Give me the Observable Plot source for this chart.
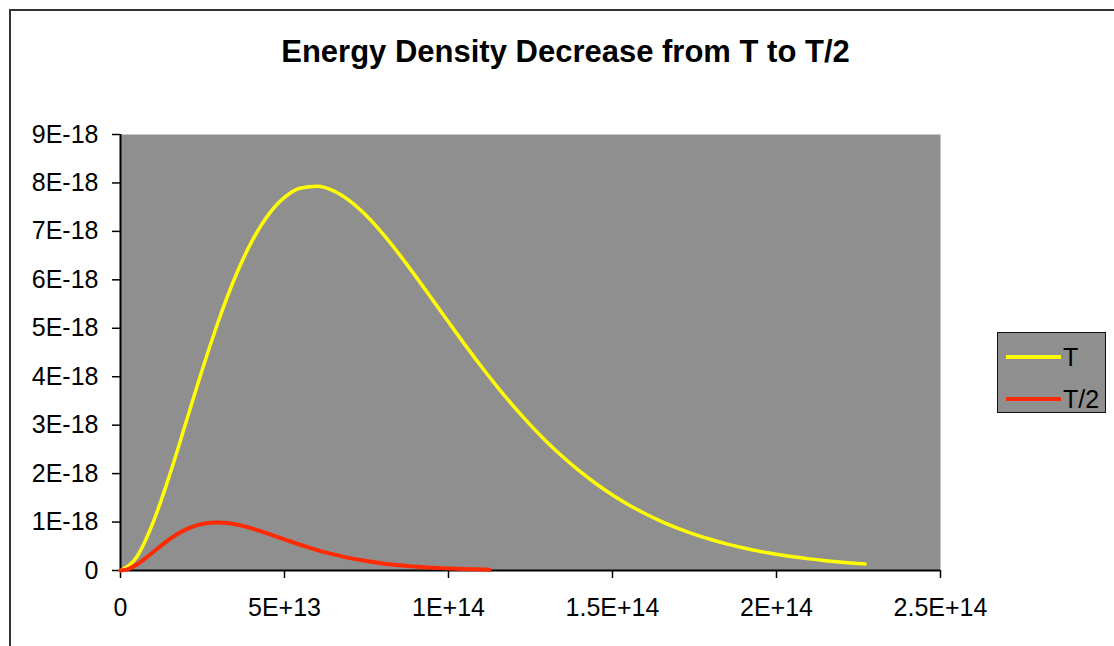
<!DOCTYPE html>
<html>
<head>
<meta charset="utf-8">
<script src="https://cdn.jsdelivr.net/npm/d3@7"></script>
<script src="https://cdn.jsdelivr.net/npm/@observablehq/plot@0.6"></script>
<style>
  html, body { margin: 0; padding: 0; background: #fff; }
  #chart { position: relative; width: 1114px; height: 646px; overflow: hidden; font-family: "Liberation Sans", Arial, sans-serif; }
  #border { position: absolute; left: 9px; top: 9px; width: 1200px; height: 700px; border-left: 2px solid #333; border-top: 2px solid #333; }
  #title { position: absolute; left: 0; width: 1131px; top: 36px; text-align: center; font-weight: bold; font-size: 31px; color: #000; line-height: 1; }
  #plot { position: absolute; left: 0; top: 0; }
  #legend { position: absolute; left: 997px; top: 332px; width: 109px; height: 81px; background: #8f8f8f; border: 1.5px solid #111; box-sizing: border-box; }
  .item { position: absolute; left: 8px; height: 30px; display: flex; align-items: center; font-size: 25px; color: #000; }
  .sw { width: 55px; height: 4px; margin-right: 2px; }
</style>
</head>
<body>
<div id="chart">
  <div id="border"></div>
  <div id="plot"></div>
  <div id="title"></div>
  <div id="legend"></div>
</div>
<script>
const title = "Energy Density Decrease from T to T/2";
const seriesNames = ["T", "T/2"];
const seriesColors = ["#ffff00", "#ff2a00"];

// frequency (Hz) for curve T
const freqT = [0, 5e12, 1e13, 1.5e13, 2e13, 2.5e13, 3e13, 3.5e13, 4e13, 4.5e13, 5e13, 5.5e13, 6e13, 6.5e13, 7e13, 7.5e13, 8e13, 8.5e13, 9e13, 9.5e13, 1e14, 1.05e14, 1.1e14, 1.15e14, 1.2e14, 1.25e14, 1.3e14, 1.35e14, 1.4e14, 1.45e14, 1.5e14, 1.55e14, 1.6e14, 1.65e14, 1.7e14, 1.75e14, 1.8e14, 1.85e14, 1.9e14, 1.95e14, 2e14, 2.05e14, 2.1e14, 2.15e14, 2.2e14, 2.25e14, 2.27e14];
// energy density for T, in units of 1E-18
const energyT = [0, 0.284, 1.002, 1.976, 3.065, 4.158, 5.176, 6.064, 6.789, 7.335, 7.701, 7.895, 7.933, 7.837, 7.625, 7.322, 6.949, 6.526, 6.072, 5.602, 5.129, 4.662, 4.211, 3.781, 3.377, 3.001, 2.654, 2.337, 2.050, 1.791, 1.560, 1.354, 1.171, 1.010, 0.869, 0.746, 0.639, 0.545, 0.465, 0.395, 0.335, 0.284, 0.240, 0.203, 0.171, 0.144, 0.134];

// frequency (Hz) for curve T/2
const freqT2 = [0, 2.5e12, 5e12, 7.5e12, 1e13, 1.25e13, 1.5e13, 1.75e13, 2e13, 2.25e13, 2.5e13, 2.75e13, 3e13, 3.25e13, 3.5e13, 3.75e13, 4e13, 4.25e13, 4.5e13, 4.75e13, 5e13, 5.25e13, 5.5e13, 5.75e13, 6e13, 6.25e13, 6.5e13, 6.75e13, 7e13, 7.25e13, 7.5e13, 7.75e13, 8e13, 8.25e13, 8.5e13, 8.75e13, 9e13, 9.25e13, 9.5e13, 9.75e13, 1e14, 1.025e14, 1.05e14, 1.075e14, 1.1e14, 1.125e14];
// energy density for T/2, in units of 1E-18
const energyT2 = [0, 0.036, 0.125, 0.247, 0.383, 0.520, 0.647, 0.758, 0.849, 0.917, 0.963, 0.987, 0.992, 0.980, 0.953, 0.915, 0.869, 0.816, 0.759, 0.700, 0.641, 0.583, 0.526, 0.473, 0.422, 0.375, 0.332, 0.292, 0.256, 0.224, 0.195, 0.169, 0.146, 0.126, 0.109, 0.093, 0.080, 0.068, 0.058, 0.049, 0.042, 0.036, 0.030, 0.025, 0.021, 0.018];

const xTicks = [0, 5e13, 1e14, 1.5e14, 2e14, 2.5e14];
const xTickLabels = ["0", "5E+13", "1E+14", "1.5E+14", "2E+14", "2.5E+14"];
const yTicks = [0, 1, 2, 3, 4, 5, 6, 7, 8, 9];
const yTickLabels = ["0", "1E-18", "2E-18", "3E-18", "4E-18", "5E-18", "6E-18", "7E-18", "8E-18", "9E-18"];

const dataT = freqT.map((f, i) => ({f, u: energyT[i]}));
const dataT2 = freqT2.map((f, i) => ({f, u: energyT2[i]}));

document.getElementById("title").textContent = title;

const chart = Plot.plot({
  width: 1114,
  height: 646,
  marginLeft: 120,
  marginRight: 174,
  marginTop: 134,
  marginBottom: 76,
  style: {background: "transparent", fontFamily: "'Liberation Sans', Arial, sans-serif", fontSize: "25px", color: "#000"},
  x: {domain: [0, 2.5e14]},
  y: {domain: [0, 9]},
  marks: [
    Plot.frame({fill: "#8f8f8f", stroke: null}),
    Plot.axisX({ticks: xTicks, tickFormat: d => xTickLabels[xTicks.indexOf(d)], tickSize: 8, tickPadding: 20, label: null, stroke: "#000", strokeWidth: 1.5}),
    Plot.axisY({ticks: yTicks, tickFormat: d => yTickLabels[yTicks.indexOf(d)], tickSize: 8, tickPadding: 14, label: null, stroke: "#000", strokeWidth: 1.5}),
    Plot.ruleY([0], {stroke: "#000", strokeWidth: 2}),
    Plot.ruleX([0], {stroke: "#000", strokeWidth: 2}),
    Plot.line(dataT, {x: "f", y: "u", stroke: seriesColors[0], strokeWidth: 3.5, curve: "monotone-x"}),
    Plot.line(dataT2, {x: "f", y: "u", stroke: seriesColors[1], strokeWidth: 4, curve: "monotone-x"})
  ]
});
document.getElementById("plot").appendChild(chart);

const legend = document.getElementById("legend");
seriesNames.forEach((name, i) => {
  const item = document.createElement("div");
  item.className = "item";
  item.style.top = (9 + i * 42) + "px";
  const sw = document.createElement("div");
  sw.className = "sw";
  sw.style.background = seriesColors[i];
  const label = document.createElement("span");
  label.textContent = name;
  item.appendChild(sw);
  item.appendChild(label);
  legend.appendChild(item);
});
</script>
</body>
</html>
